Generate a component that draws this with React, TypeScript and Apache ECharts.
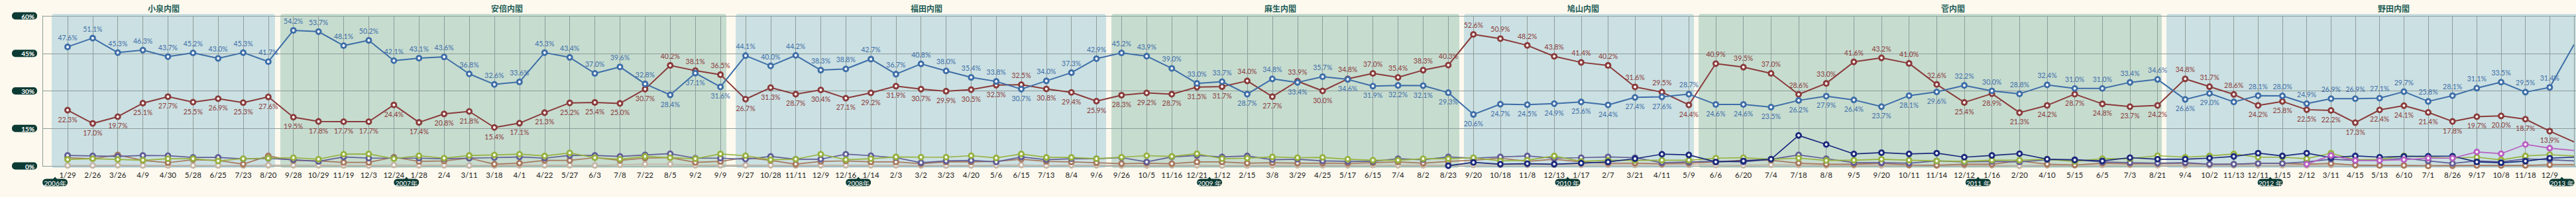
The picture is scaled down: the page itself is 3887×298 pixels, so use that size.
import React, { useEffect, useRef } from 'react';
import * as echarts from 'echarts';

// ---------- data ----------
const cabinets = ['小泉内閣', '安倍内閣', '福田内閣', '麻生内閣', '鳩山内閣', '菅内閣', '野田内閣'];
const cabinetSizes = [9, 18, 15, 14, 9, 17, 16];

const dates = [
  '1/29', '2/26', '3/26', '4/9', '4/30', '5/28', '6/25', '7/23', '8/20',
  '9/28', '10/29', '11/19', '12/3', '12/24', '1/28', '2/4', '3/11', '3/18', '4/1', '4/22', '5/27', '6/3', '7/8', '7/22', '8/5', '9/2', '9/9',
  '9/27', '10/28', '11/11', '12/9', '12/16', '1/14', '2/3', '3/2', '3/23', '4/20', '5/6', '6/15', '7/13', '8/4', '9/6',
  '9/26', '10/5', '11/16', '12/21', '1/12', '2/15', '3/8', '3/29', '4/25', '5/17', '6/15', '7/4', '8/2', '8/23',
  '9/20', '10/18', '11/8', '12/13', '1/17', '2/7', '3/21', '4/11', '5/9',
  '6/6', '6/20', '7/4', '7/18', '8/8', '9/5', '9/20', '10/11', '11/14', '12/12', '1/16', '2/20', '4/10', '5/15', '6/5', '7/3', '8/21',
  '9/4', '10/2', '11/13', '12/11', '1/15', '2/12', '3/11', '4/15', '5/13', '6/10', '7/1', '8/26', '9/17', '10/8', '11/18', '12/9',
  '1/20',
];

const yearLabels = ['2006年', '2007年', '2008年', '2009 年', '2010 年', '2011 年', '2012 年', '2013 年'];

const ldp = [
  47.6, 51.1, 45.3, 46.3, 43.7, 45.2, 43.0, 45.3, 41.7,
  54.2, 53.7, 48.1, 50.2, 42.1, 43.1, 43.6, 36.8, 32.6, 33.6, 45.3, 43.4, 37.0, 39.6, 32.8, 28.4, 37.1, 31.6,
  44.1, 40.0, 44.2, 38.3, 38.8, 42.7, 36.7, 40.8, 38.0, 35.4, 33.8, 30.7, 34.0, 37.3, 42.9,
  45.2, 43.9, 39.0, 33.0, 33.7, 28.7, 34.8, 33.4, 35.7, 34.6, 31.9, 32.2, 32.1, 29.3,
  20.6, 24.7, 24.5, 24.9, 25.6, 24.4, 27.4, 27.6, 28.7,
  24.6, 24.6, 23.5, 26.2, 27.9, 26.4, 23.7, 28.1, 29.6, 32.2, 30.0, 28.8, 32.4, 31.0, 31.0, 33.4, 34.6,
  26.6, 29.0, 25.6, 28.1, 28.0, 24.9, 26.9, 26.9, 27.1, 29.7, 25.8, 28.1, 31.1, 33.5, 29.5, 31.4,
  48.5,
];
const ldpLabelHidden = [84];

const dpj = [
  22.3, 17.0, 19.7, 25.1, 27.7, 25.5, 26.9, 25.3, 27.6,
  19.5, 17.8, 17.7, 17.7, 24.4, 17.4, 20.8, 21.8, 15.4, 17.1, 21.3, 25.2, 25.4, 25.0, 30.7, 40.2, 38.1, 36.5,
  26.7, 31.3, 28.7, 30.4, 27.1, 29.2, 31.9, 30.7, 29.9, 30.5, 32.3, 32.5, 30.8, 29.4, 25.9,
  28.3, 29.2, 28.7, 31.5, 31.7, 34.0, 27.7, 33.9, 30.0, 34.8, 37.0, 35.4, 38.3, 40.3,
  52.6, 50.9, 48.2, 43.8, 41.4, 40.2, 31.6, 29.5, 24.4,
  40.9, 39.5, 37.0, 28.6, 33.0, 41.6, 43.2, 41.0, 32.6, 25.4, 28.9, 21.3, 24.2, 28.7, 24.8, 23.7, 24.2,
  34.8, 31.7, 28.6, 24.2, 25.8, 22.5, 22.2, 17.3, 22.4, 24.1, 21.4, 17.8, 19.7, 20.0, 18.7, 13.9,
  9.6,
];

const komei = [
  4.2, 4.0, 3.8, 4.2, 4.1, 3.4, 3.4, 2.8, 3.0,
  2.5, 1.8, 3.6, 3.1, 3.1, 3.1, 2.9, 3.1, 3.3, 3.6, 3.1, 4.2, 4.2, 3.8, 4.4, 4.9, 3.1, 3.1,
  2.7, 3.8, 2.7, 2.7, 4.7, 4.1, 3.3, 1.3, 2.0, 2.2, 1.6, 3.6, 2.5, 2.9, 2.9,
  3.3, 1.6, 3.6, 4.2, 3.6, 4.0, 2.5, 2.7, 2.0, 1.8, 1.8, 2.9, 2.5, 3.6,
  3.1, 3.6, 4.0, 3.1, 3.3, 3.6, 3.3, 1.3, 1.6,
  1.8, 1.6, 2.7, 4.4, 2.9, 1.3, 1.3, 1.1, 2.0, 1.6, 1.8, 1.6, 2.5, 2.5, 1.6, 1.3, 1.1,
  1.3, 0.7, 0.7, 1.0, 1.0, 1.6, 2.7, 2.2, 2.2, 3.1, 2.0, 1.0, 2.0, 1.6, 2.8, 2.5,
  2.0,
];

const kyosan = [
  2.6, 2.9, 2.6, 2.3, 2.9, 2.9, 2.0, 2.9, 3.1,
  3.3, 2.7, 4.7, 4.8, 2.9, 4.1, 3.1, 4.2, 4.4, 4.7, 4.0, 5.2, 3.3, 2.7, 3.8, 3.3, 2.9, 4.8,
  4.1, 2.5, 2.7, 4.7, 2.5, 2.9, 3.6, 3.5, 3.5, 4.1, 3.2, 4.8, 3.4, 3.4, 2.9,
  3.5, 4.1, 3.8, 4.9, 2.9, 3.1, 3.6, 3.3, 3.4, 2.7, 2.3, 2.3, 2.9, 2.9,
  3.3, 2.0, 2.3, 4.0, 1.8, 2.3, 2.2, 2.3, 2.3,
  3.1, 3.3, 2.7, 3.1, 2.2, 2.3, 2.7, 2.3, 2.0, 1.8, 2.3, 2.3, 2.7, 1.8, 2.9, 2.9, 4.1,
  3.5, 4.0, 4.8, 3.5, 3.5, 2.9, 5.1, 2.5, 2.6, 4.0, 3.5, 3.1, 3.5, 2.4, 4.0, 4.5,
  4.0,
];

const shamin = [
  3.3, 2.9, 4.4, 2.2, 1.3, 2.5, 2.2, 0.7, 4.0,
  2.2, 2.0, 1.4, 1.4, 3.5, 1.8, 2.0, 3.1, 0.7, 1.1, 2.2, 2.2, 3.3, 2.2, 3.1, 3.3, 1.4, 1.8,
  3.3, 2.2, 0.7, 1.8, 2.0, 1.6, 1.6, 0.9, 1.6, 1.6, 1.8, 2.7, 1.8, 1.6, 1.3,
  0.9, 1.1, 0.9, 1.6, 1.6, 1.1, 1.3, 1.1, 1.1, 1.0, 1.3, 1.6, 1.1, 1.8,
  2.3, 3.1, 1.8, 2.7, 1.6, 1.1, 1.1, 0.9, 1.1,
  1.6, 2.3, 2.3, 1.1, 0.7, 0.7, 1.0, 0.4, 0.3, 0.7, 0.7, 2.0, 0.7, 0.4, 1.1, 0.9, 0.9,
  1.0, 0.7, 0.7, 1.0, 1.0, 0.7, 1.0, 0.3, 0.2, 0.2, 0.0, 0.1, 0.2, 0.2, 0.2, 0.5,
  0.6,
];

const kokumin = [
  0.2, 0.2, 0.3, 0.2, 0.2, 0.2, 0.2, 0.2, 0.3,
  0.3, 0.3, 0.2, 0.2, 0.4, 0.3, 0.3, 0.2, 0.2, 0.3, 0.3, 0.3, 0.2, 0.5, 0.7, 0.7, 0.3, 0.3,
  0.3, 0.3, 0.2, 0.3, 0.3, 0.3, 0.3, 0.2, 0.2, 0.2, 0.3, 0.4, 0.2, 0.3, 0.3,
  0.2, 0.2, 0.3, 0.3, 0.2, 0.2, 0.3, 0.3, 0.3, 0.3, 0.4, 0.3, 0.3, 0.3,
  0.4, 0.5, 0.4, 0.5, 0.4, 0.5, 0.4, 0.5, 0.5,
  0.4, 0.3, 0.5, 0.4, 0.3, 0.3, 0.3, 0.3, 0.2, 0.3, 0.3, 0.1, 0.3, 0.3, 0.4, 0.4, 0.3,
  0.3, 0.2, 0.3, 0.3, 0.3, 0.3, 0.4, 0.4, 0.3, 0.3, 0.3, 0.3, 0.3, 0.3, 0.3, 0.4,
  0.3,
];

const minna = [
  null, null, null, null, null, null, null, null, null,
  null, null, null, null, null, null, null, null, null, null, null, null, null, null, null, null, null, null,
  null, null, null, null, null, null, null, null, null, null, null, null, null, null, null,
  null, null, null, null, null, null, null, null, null, null, null, null, null, 0.1,
  1.4, 0.7, 0.9, 0.7, 1.1, 1.6, 2.9, 4.7, 4.4,
  1.6, 2.0, 2.7, 12.2, 8.6, 4.8, 5.3, 4.8, 5.1, 3.5, 4.2, 4.9, 2.7, 2.4, 2.0, 3.3, 2.7,
  2.7, 3.1, 3.8, 5.1, 4.0, 5.1, 3.3, 4.0, 3.5, 3.8, 3.9, 3.9, 1.6, 1.3, 1.9, 3.1,
  3.5,
];

const ishin = [
  null, null, null, null, null, null, null, null, null,
  null, null, null, null, null, null, null, null, null, null, null, null, null, null, null, null, null, null,
  null, null, null, null, null, null, null, null, null, null, null, null, null, null, null,
  null, null, null, null, null, null, null, null, null, null, null, null, null, null,
  null, null, null, null, null, null, null, null, null,
  null, null, null, null, null, null, null, null, null, null, null, null, null, null, null, null, null,
  null, null, null, null, null, 0.7, 4.2, 2.2, 2.2, 2.5, 3.1, 3.1, 5.6, 4.9, 8.6, 7.1,
  6.2,
];

// ---------- layout / style ----------
const GRID_X = [102, 442.7, 1125, 1692.3, 2223.3, 2589, 3297.3, 3906.1];
const SHADES = [[78, 415], [423, 1096], [1110, 1669], [1677, 2202], [2209, 2556], [2563, 3262], [3269, 3895]];
const SHADE_COLORS = ['#cbe0e2', '#c6dccf'];
const TITLE_X = [247, 765, 1398, 1932, 2389, 2947, 3612];
const LINE = '#8e9c9a';
const BADGE = '#0c3b34';

const parties = [
  { key: 'kokumin', name: '国民新党', values: kokumin, color: '#c5b7a8', labels: false },
  { key: 'shamin', name: '社民党', values: shamin, color: '#a8795e', labels: false },
  { key: 'komei', name: '公明党', values: komei, color: '#615e96', labels: false },
  { key: 'kyosan', name: '共産党', values: kyosan, color: '#97b23f', labels: false },
  { key: 'minna', name: 'みんなの党', values: minna, color: '#1b2a7c', labels: false },
  { key: 'ishin', name: '日本維新の会', values: ishin, color: '#b85fc2', labels: false },
  { key: 'dpj', name: '民主党', values: dpj, color: '#8a3b3b', labels: true },
  { key: 'ldp', name: '自民党', values: ldp, color: '#3e6ea8', labels: true },
];

export default function App() {
  const ref = useRef<HTMLDivElement>(null);

  useEffect(() => {
    document.body.style.margin = '0';
    document.body.style.overflow = 'hidden';
    document.body.style.background = '#fdf9ee';
    const chart = echarts.init(ref.current!, undefined, { renderer: 'svg' });

    const starts: number[] = [];
    let acc = 0;
    cabinetSizes.forEach((n) => { starts.push(acc); acc += n; });

    const grids: any[] = [{ left: 64, right: 0, top: 24, bottom: 47 }];
    const xAxes: any[] = [{ type: 'value', gridIndex: 0, show: false, min: 0, max: 1 }];
    const yAxes: any[] = [{
      type: 'value', gridIndex: 0, min: 0, max: 60, interval: 15,
      axisLine: { show: true, lineStyle: { color: LINE, width: 1 } },
      axisTick: { show: false },
      splitLine: { show: true, lineStyle: { color: LINE, width: 1 } },
      axisLabel: {
        margin: 8,
        formatter: (v: number) => `{p|${v}%}`,
        rich: {
          p: {
            color: '#ffffff', fontSize: 10, fontFamily: 'Lato', fontWeight: 'bold',
            backgroundColor: BADGE, borderRadius: 5, padding: [1, 4, 0, 6],
            width: 28, align: 'right', lineHeight: 10,
          },
        },
      },
    }];
    const series: any[] = [];

    cabinets.forEach((_name, k) => {
      const s = starts[k];
      const n = cabinetSizes[k];
      grids.push({ left: GRID_X[k], width: GRID_X[k + 1] - GRID_X[k], top: 24, bottom: 47 });
      xAxes.push({
        type: 'category', gridIndex: k + 1, data: dates.slice(s, s + n + 1), boundaryGap: false,
        axisLine: { show: false }, axisTick: { show: false },
        axisLabel: {
          interval: 0, margin: 7, color: '#1c1c1c', fontSize: 11.5, fontFamily: 'Lato',
          formatter: (v: string, i: number) => (i === n ? '' : v),
        },
        splitLine: { show: true, interval: 0, lineStyle: { color: LINE, width: 1 } },
      });
      yAxes.push({ type: 'value', gridIndex: k + 1, min: 0, max: 60, show: false });

      parties.forEach((p) => {
        const data = p.values.slice(s, s + n + 1).map((v: number | null, i: number) => {
          const g = s + i;
          if (v == null) return null;
          if (i === n) return { value: v, symbol: 'none', label: { show: false } };
          if (!p.labels) return v;
          const other = p.key === 'ldp' ? dpj[g] : ldp[g];
          const top = v >= other;
          const hidden = p.key === 'ldp' && ldpLabelHidden.includes(g);
          return { value: v, label: { show: !hidden, position: top ? 'top' : 'bottom' } };
        });
        series.push({
          type: 'line', name: p.name, xAxisIndex: k + 1, yAxisIndex: k + 1, data,
          symbol: 'circle', symbolSize: 7, showAllSymbol: true, silent: true,
          lineStyle: { color: p.color, width: p.labels ? 2 : 1.7 },
          itemStyle: { color: '#ffffff', borderColor: p.color, borderWidth: 3 },
          label: {
            show: p.labels, color: p.color, fontSize: 10.5, fontFamily: 'Lato', distance: 3.5,
            formatter: (q: any) => Number(q.value).toFixed(1) + '%',
          },
          emphasis: { disabled: true },
        });
      });
    });

    chart.setOption({
      animation: false,
      backgroundColor: '#fdf9ee',
      grid: grids,
      xAxis: xAxes,
      yAxis: yAxes,
      series,
    });

    // locate cabinet / year positions through the axes
    const px = (k: number, j: number) => (chart.convertToPixel({ gridIndex: k + 1 } as any, [j, 0]) as number[])[0];
    const cabOf = (g: number) => {
      let k = 0;
      while (k < cabinets.length - 1 && g >= starts[k + 1]) k++;
      return k;
    };
    const month = (d: string) => parseInt(d.split('/')[0], 10);
    const yearX: number[] = [];
    {
      const x0 = px(0, 0);
      const x1 = px(0, 1);
      yearX.push(x0 - (x1 - x0) / 2);
    }
    for (let g = 1; g < dates.length; g++) {
      if (month(dates[g]) < month(dates[g - 1])) {
        const k = cabOf(g - 1);
        const j = g - 1 - starts[k];
        yearX.push((px(k, j) + px(k, j + 1)) / 2);
      }
    }

    const shades = SHADES.map(([a, b], k) => ({
      type: 'rect', z: -1, silent: true,
      shape: { x: a, y: 21, width: b - a, height: 233, r: 4 },
      style: { fill: SHADE_COLORS[k % 2] },
    }));
    const titles = cabinets.map((name, k) => ({
      type: 'text', x: TITLE_X[k], y: 12, silent: true,
      style: {
        text: name, align: 'center', verticalAlign: 'middle', fill: '#1f5f59',
        fontSize: 12, fontWeight: 'bold', fontFamily: 'Noto Sans CJK JP',
      },
    }));
    const badges = yearX.map((x, i) => ({
      type: 'group', x, y: 276, silent: true,
      children: [
        { type: 'polygon', shape: { points: [[-3, -5], [3, -5], [0, -8.5]] }, style: { fill: BADGE } },
        { type: 'rect', shape: { x: -19, y: -5.5, width: 38, height: 11, r: 5.5 }, style: { fill: BADGE } },
        {
          type: 'text', x: 0, y: 0.5,
          style: {
            text: yearLabels[i] ?? '', align: 'center', verticalAlign: 'middle', fill: '#ffffff',
            fontSize: 10, fontFamily: 'Lato',
          },
        },
      ],
    }));

    chart.setOption({ graphic: { elements: [...shades, ...titles, ...badges] } });

    return () => chart.dispose();
  }, []);

  return <div ref={ref} style={{ width: 3887, height: 298 }} />;
}
